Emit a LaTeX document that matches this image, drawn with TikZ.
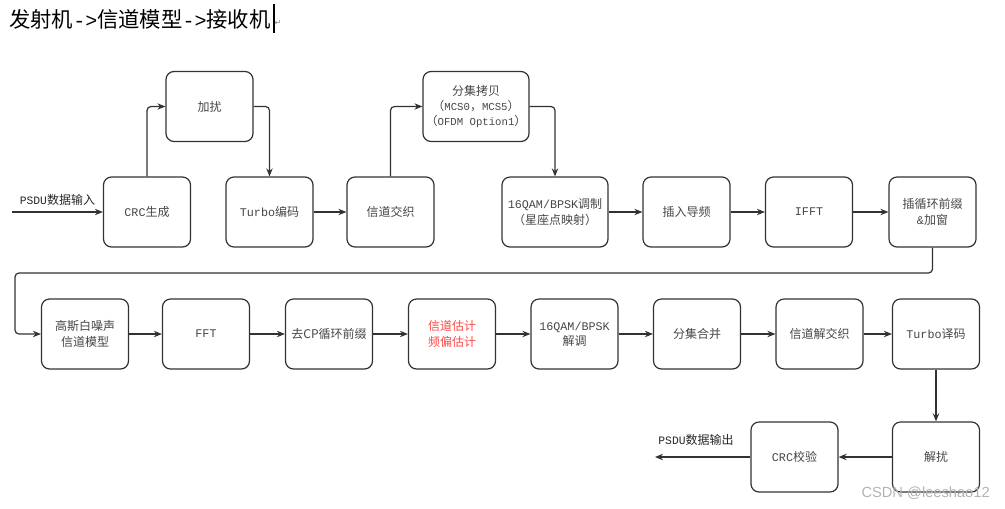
\documentclass[tikz,border=0pt]{standalone}
\usepackage{fontspec}
\setmainfont{Liberation Mono}
\newfontfamily\cjk{Noto Sans CJK SC}
\newfontfamily\wmfont{Liberation Sans}
\newfontfamily\symfont{DejaVu Sans}
\usetikzlibrary{arrows.meta,positioning}
\definecolor{boxline}{RGB}{50,50,50}
\definecolor{boxtext}{RGB}{70,70,70}
\definecolor{estred}{RGB}{255,70,70}
\newcommand{\zh}[1]{{\cjk\fontsize{9}{11.5}\selectfont #1}}
\newcommand{\arr}{{\rmfamily\fontsize{15}{18}\selectfont ->}}

\begin{document}
\begin{tikzpicture}[x=0.75pt,y=-0.75pt,
    blk/.style={draw=boxline, line width=0.9pt, rounded corners=6pt, minimum width=65.25pt, minimum height=52.5pt, inner sep=1pt, align=center, text=boxtext, font=\fontsize{8.8}{11.5}\selectfont},
    wide/.style={minimum width=79.5pt},
    lbl/.style={text=black!85, font=\fontsize{8.5}{11.5}\selectfont},
    flow/.style={-{Stealth[length=6pt,width=4.8pt]}, line width=0.9pt, draw=boxline, rounded corners=3pt}]
    \useasboundingbox (0,0) rectangle (1005,508);

    \node[anchor=west, inner sep=0pt, font=\cjk\fontsize{16}{18}\selectfont] (title) at (9,19) {发射机\arr 信道模型\arr 接收机};
    \draw[line width=1.5pt] (274,4) -- (274,33);
    \node[font=\symfont\fontsize{6}{7}\selectfont, text=gray] (pmark) at (278,23) {↵};

    % transmitter
    \node[blk] (crc) at (147,212) {CRC\zh{生成}};
    \node[blk] (scr) at (209.5,106.5) {\zh{加扰}};
    \node[blk] (turbo) at (269.5,212) {Turbo\zh{编码}};
    \node[blk] (intlv) at (390.5,212) {\zh{信道交织}};
    \node[blk, wide, font=\fontsize{8}{11.5}\selectfont] (copy) at (476,106.5) {\zh{分集拷贝}\\\zh{（}MCS0\zh{，}MCS5\zh{）}\\\zh{（}OFDM Option1\zh{）}};
    \node[blk, wide] (mod) at (555,212) {16QAM/BPSK\zh{调制}\\\zh{（星座点映射）}};
    \node[blk] (pilot) at (686.5,212) {\zh{插入导频}};
    \node[blk] (ifft) at (809,212) {IFFT};
    \node[blk] (cp) at (932.5,212) {\zh{插循环前缀}\\\&\zh{加窗}};

    % channel + receiver
    \node[blk] (awgn) at (85,334) {\zh{高斯白噪声}\\\zh{信道模型}};
    \node[blk] (fft) at (206,334) {FFT};
    \node[blk] (rmcp) at (329,334) {\zh{去CP循环前缀}};
    \node[blk, text=estred] (est) at (452,334) {\zh{信道估计}\\\zh{频偏估计}};
    \node[blk] (demod) at (574.5,334) {16QAM/BPSK\\\zh{解调}};
    \node[blk] (comb) at (697,334) {\zh{分集合并}};
    \node[blk] (deint) at (819.5,334) {\zh{信道解交织}};
    \node[blk] (tdec) at (936,334) {Turbo\zh{译码}};
    \node[blk] (dscr) at (936,457) {\zh{解扰}};
    \node[blk] (crcchk) at (794.5,457) {CRC\zh{校验}};

    \coordinate (in) at (12,212);
    \coordinate (out) at (655,457);
    \coordinate (wrapR) at (932.5,273);
    \coordinate (wrapL) at (15,273);

    \draw[flow] (in) -- node[above=1pt, lbl] {PSDU\zh{数据输入}} (crc);
    \draw[flow] (crc.north) |- (scr.west);
    \draw[flow] (scr.east) -| (turbo.north);
    \draw[flow] (intlv.north) |- (copy.west);
    \draw[flow] (copy.east) -| (mod.north);
    \draw[flow] (cp.south) -- (wrapR) -- (wrapL) |- (awgn.west);
    \foreach \a/\b in {turbo/intlv, mod/pilot, pilot/ifft, ifft/cp, awgn/fft, fft/rmcp, rmcp/est, est/demod, demod/comb, comb/deint, deint/tdec, tdec/dscr, dscr/crcchk}
        \draw[flow] (\a) -- (\b);
    \draw[flow] (crcchk) -- node[above=5pt, lbl, xshift=-5pt] {PSDU\zh{数据输出}} (out);

    \node[anchor=east, inner sep=0pt, font=\wmfont\fontsize{11}{13}\selectfont, text=gray!60] (wm) at (990,493) {CSDN @leeshao12};
\end{tikzpicture}
\end{document}
